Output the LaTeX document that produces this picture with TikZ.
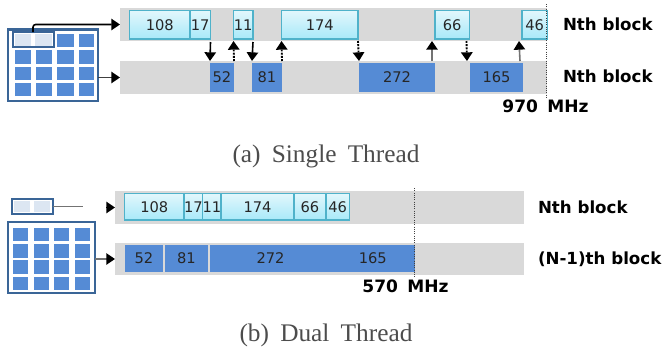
\documentclass[tikz,border=0pt]{standalone}
\usepackage{fontspec}
\setmainfont{Liberation Serif}
\newfontfamily\lblfont{DejaVu Sans}
\usetikzlibrary{arrows.meta}
\definecolor{grayrow}{HTML}{D9D9D9}
\definecolor{blockblue}{HTML}{558BD5}
\definecolor{cyantop}{HTML}{E2F7FC}
\definecolor{cyanbot}{HTML}{A8E9F9}
\definecolor{cyanedge}{HTML}{4FB2CA}
\definecolor{tableedge}{HTML}{3A6597}
\definecolor{lightcell}{HTML}{DCE6F2}
\newcommand{\px}{0.75pt}
% \rectnode[style]{name}{x1}{x2}{y1}{y2}{text}
\newcommand{\rectnode}[7][]{%
  \pgfmathsetmacro{\rw}{(#4-#3)*0.75}%
  \pgfmathsetmacro{\rh}{(#6-#5)*0.75}%
  \node[#1,minimum width=\rw pt,minimum height=\rh pt] (#2) at ({(#3+#4)/2},{(#5+#6)/2}) {#7};}
\tikzset{
  x=0.75pt,y=-0.75pt,
  every node/.style={inner sep=0pt,outer sep=0pt},
  rowbar/.style={fill=grayrow},
  cyanblock/.style={draw=cyanedge,line width=1pt,top color=cyantop,bottom color=cyanbot,
    font=\lblfont\fontsize{11pt}{12pt}\selectfont,text=black!85},
  blueblock/.style={fill=blockblue,font=\lblfont\fontsize{11pt}{12pt}\selectfont,text=black!85},
  tablebox/.style={draw=tableedge,line width=1.6pt,fill=white},
  bluecell/.style={fill=blockblue},
  lightbox/.style={fill=lightcell},
  selbox/.style={draw=tableedge,line width=1.5pt,fill=white},
  lbl/.style={font=\lblfont\bfseries\fontsize{12.5pt}{14pt}\selectfont,text=black,anchor=west},
  freq/.style={font=\lblfont\bfseries\fontsize{12.8pt}{14pt}\selectfont,text=black},
  captext/.style={font=\fontsize{19pt}{20pt}\selectfont,text=black!70,anchor=center},
  tipped/.style={-{Triangle[width=8.5pt,length=6.5pt,color=black]}},
  solidarrow/.style={tipped,line width=1.2pt,black},
  dotarrow/.style={tipped,line width=1.4pt,black,densely dotted},
  grayarrow/.style={tipped,line width=1.2pt,black!55},
  limitline/.style={line width=0.7pt,black!75,densely dotted},
}
\begin{document}
\begin{tikzpicture}
\useasboundingbox (0,0) rectangle (662,351);
% ---------- (a) ----------
\rectnode[rowbar]{rowA}{120}{547}{8}{41}{}
\rectnode[rowbar]{rowB}{120}{547}{61}{94}{}
\rectnode[cyanblock]{c108}{129.5}{190}{10.5}{39}{108}
\rectnode[cyanblock]{c17}{190}{210.5}{10.5}{39}{17}
\rectnode[cyanblock]{c11}{233.5}{253}{10.5}{39}{11}
\rectnode[cyanblock]{c174}{281.5}{358}{10.5}{39}{174}
\rectnode[cyanblock]{c66}{435}{469.5}{10.5}{39}{66}
\rectnode[cyanblock]{c46}{522}{547.5}{10.5}{39}{46}
\rectnode[blueblock]{b52}{210}{234}{63}{92}{52}
\rectnode[blueblock]{b81}{252}{282}{63}{92}{81}
\rectnode[blueblock]{b272}{359}{435}{63}{92}{272}
\rectnode[blueblock]{b165}{470}{523}{63}{92}{165}
\draw[solidarrow] (c17.south east |- rowA.south) ++(0,1) -- (b52.north west |- rowB.north);
\draw[dotarrow] (b52.north east |- rowB.north) -- (c11.south west |- rowA.south);
\draw[solidarrow] (c11.south east |- rowA.south) ++(0,1) -- (b81.north west |- rowB.north);
\draw[dotarrow] (b81.north east |- rowB.north) -- (c174.south west |- rowA.south);
\draw[dotarrow] (c174.south east |- rowA.south) -- (b272.north west |- rowB.north);
\draw[grayarrow] ([xshift=-3*\px]b272.north east |- rowB.north) -- ([xshift=-3*\px]c66.south west |- rowA.south);
\draw[dotarrow] ([xshift=-3*\px]c66.south east |- rowA.south) -- ([xshift=-3*\px]b165.north west |- rowB.north);
\draw[grayarrow] ([xshift=-3*\px]b165.north east |- rowB.north) -- ([xshift=-3*\px]c46.south west |- rowA.south);
\coordinate (limA1) at (546,4);
\coordinate (limA2) at (546,98);
\draw[limitline] (limA1) -- (limA2);
\node[lbl] (nA) at (563,24.5) {Nth block};
\node[lbl] (nB) at (563,76.5) {Nth block};
\node[freq] (fA) at (545.5,106) {970\hspace{7pt}MHz};
\node[captext] (capA) at (326,156) {(a)\hspace{8.4pt}Single\hspace{8.4pt}Thread};
% table a
\rectnode[tablebox]{tabA}{8}{98}{29.5}{101}{}
\foreach \xa/\xb [count=\i] in {15/31,35.5/52,57/74,79/94}{
  \foreach \ya/\yb [count=\j] in {34/47,50/64,67/80,83/96}{
    \ifnum\j=1 \ifnum\i<3 \else
      \rectnode[bluecell]{ca\i\j}{\xa}{\xb}{\ya}{\yb}{}
    \fi\else
      \rectnode[bluecell]{ca\i\j}{\xa}{\xb}{\ya}{\yb}{}
    \fi
  }}
\rectnode[selbox]{selA}{12.5}{53.5}{32}{47}{}
\rectnode[lightbox]{selA1}{15}{31}{34}{45.5}{}
\rectnode[lightbox]{selA2}{35}{51.5}{34}{45.5}{}
\draw[solidarrow,rounded corners=2pt] (selA.north) |- (rowA.west);
\draw[grayarrow,black!75] (tabA.east |- rowB.west) -- (rowB.west);
% ---------- (b) ----------
\rectnode[rowbar]{rowC}{115}{524}{191}{224}{}
\rectnode[rowbar]{rowD}{115}{524}{243}{275}{}
\rectnode[cyanblock]{d108}{124.5}{184}{193.5}{220}{108}
\rectnode[cyanblock]{d17}{184}{203}{193.5}{220}{17}
\rectnode[cyanblock]{d11}{203}{221}{193.5}{220}{11}
\rectnode[cyanblock]{d174}{221}{294}{193.5}{220}{174}
\rectnode[cyanblock]{d66}{294}{326}{193.5}{220}{66}
\rectnode[cyanblock]{d46}{326}{349.5}{193.5}{220}{46}
\rectnode[blueblock]{e52}{125}{163}{245}{272}{52}
\rectnode[blueblock]{e81}{165}{208}{245}{272}{81}
\rectnode[blueblock]{e272}{210}{331}{245}{272}{272}
\rectnode[blueblock]{e165}{331}{414.5}{245}{272}{165}
\coordinate (limB1) at (414,188);
\coordinate (limB2) at (414,278);
\draw[limitline] (limB1) -- (limB2);
\node[lbl] (nC) at (538,207.5) {Nth block};
\node[lbl] (nD) at (538,259.5) {(N-1)th block};
\node[freq] (fB) at (405.5,286) {570\hspace{7pt}MHz};
\node[captext] (capB) at (326,335) {(b)\hspace{8.4pt}Dual\hspace{8.4pt}Thread};
% table b
\rectnode[selbox]{selB}{12}{52.5}{199}{214}{}
\rectnode[lightbox]{selB1}{14}{30}{201}{212}{}
\rectnode[lightbox]{selB2}{33.5}{49.5}{201}{212}{}
\coordinate (stubB) at (83,206.5);
\coordinate (headB) at (106,207.5);
\draw[line width=1pt,black!55] (selB.east) -- (stubB);
\draw[solidarrow] (headB) -- (rowC.west);
\rectnode[tablebox]{tabB}{8}{95}{222}{293}{}
\foreach \xa/\xb [count=\i] in {13/28,34/49,54/69,74.5/90}{
  \foreach \ya/\yb [count=\j] in {228/241,244/258,260/274,277/290}{
    \rectnode[bluecell]{cb\i\j}{\xa}{\xb}{\ya}{\yb}{}
  }}
\draw[grayarrow] (tabB.east |- rowD.west) -- (rowD.west);
\end{tikzpicture}
\end{document}
